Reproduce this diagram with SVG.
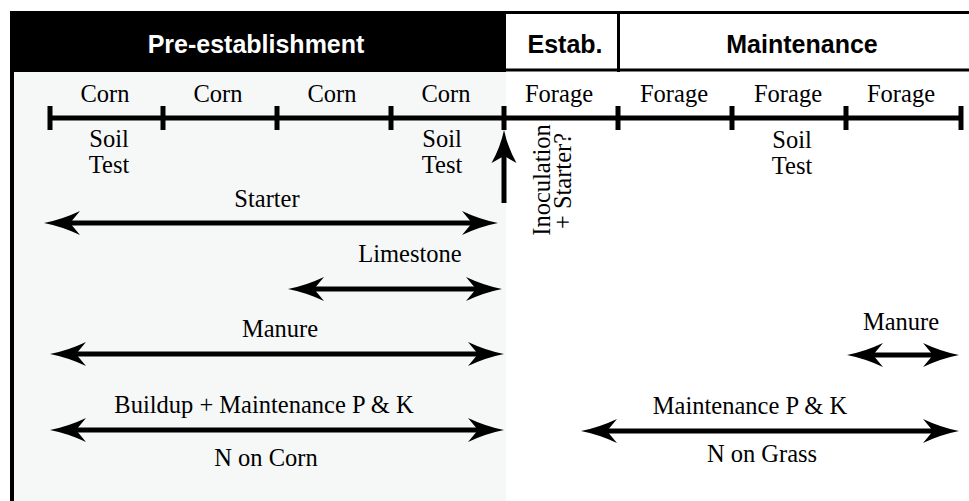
<svg xmlns="http://www.w3.org/2000/svg" width="969" height="501" viewBox="0 0 969 501">
<style>
.t{font-family:"Liberation Serif","Times New Roman",serif;font-size:24.5px;fill:#000;text-anchor:middle}
.h{font-family:"Liberation Sans",Arial,sans-serif;font-size:25px;font-weight:bold;text-anchor:middle}
.ln{stroke:#000;stroke-width:5;fill:none}
.ar{stroke:#000;stroke-width:5;fill:none;marker-start:url(#ah);marker-end:url(#ah)}
</style>
<defs>
<marker id="ah" markerUnits="userSpaceOnUse" viewBox="0 -12 36 24" refX="10" refY="0" markerWidth="36" markerHeight="24" orient="auto-start-reverse" overflow="visible">
<path d="M36,0 Q18,-3.5 0,-12 L10,0 L0,12 Q18,3.5 36,0 Z" fill="#000"/>
</marker>
<marker id="ahs" markerUnits="userSpaceOnUse" viewBox="0 -12 33 24" refX="7" refY="0" markerWidth="33" markerHeight="24" orient="auto" overflow="visible">
<path d="M33,0 Q16,-3.5 0,-12.5 L7,0 L0,12.5 Q16,3.5 33,0 Z" fill="#000"/>
</marker>
</defs>
<rect x="0" y="0" width="969" height="501" fill="#fff"/>
<g id="background">
<rect x="14" y="72" width="492" height="429" fill="#f6f8f8"/>
</g>
<g id="header-pre">
<rect x="10" y="11" width="496" height="61" fill="#000"/>
<text class="h" x="256" y="53" fill="#fff">Pre-establishment</text>
</g>
<g id="header-estab">
<text class="h" x="565" y="53" fill="#000">Estab.</text>
</g>
<g id="header-maint">
<text class="h" x="802" y="53" fill="#000">Maintenance</text>
</g>
<g id="frame">
<line x1="12" y1="11" x2="12" y2="501" stroke="#000" stroke-width="4"/>
<line x1="506" y1="12.5" x2="969" y2="12.5" stroke="#000" stroke-width="3"/>
<line x1="506" y1="70" x2="969" y2="70" stroke="#000" stroke-width="3"/>
<line x1="618.5" y1="11" x2="618.5" y2="72" stroke="#000" stroke-width="3"/>
</g>
<g id="timeline">
<line class="ln" x1="48" y1="118" x2="963" y2="118"/>
<g stroke="#000" stroke-width="5">
<line x1="50" y1="106" x2="50" y2="130"/>
<line x1="163" y1="106" x2="163" y2="130"/>
<line x1="277" y1="106" x2="277" y2="130"/>
<line x1="391" y1="106" x2="391" y2="130"/>
<line x1="504" y1="106" x2="504" y2="130"/>
<line x1="618" y1="106" x2="618" y2="130"/>
<line x1="732" y1="106" x2="732" y2="130"/>
<line x1="846" y1="106" x2="846" y2="130"/>
<line x1="961" y1="106" x2="961" y2="130"/>
</g>
<text class="t" x="105" y="102">Corn</text>
<text class="t" x="218" y="102">Corn</text>
<text class="t" x="332" y="102">Corn</text>
<text class="t" x="446" y="102">Corn</text>
<text class="t" x="559" y="102">Forage</text>
<text class="t" x="674" y="102">Forage</text>
<text class="t" x="788" y="102">Forage</text>
<text class="t" x="901" y="102">Forage</text>
</g>
<g id="soil-tests">
<text class="t" x="109" y="147">Soil</text>
<text class="t" x="109" y="173">Test</text>
<text class="t" x="442" y="147">Soil</text>
<text class="t" x="442" y="173">Test</text>
<text class="t" x="792" y="148">Soil</text>
<text class="t" x="792" y="174">Test</text>
</g>
<g id="inoculation">
<text class="t" transform="translate(550,180) rotate(-90)">Inoculation</text>
<text class="t" transform="translate(571,181) rotate(-90)">+ Starter?</text>
</g>
<g id="labels">
<text class="t" x="267" y="207">Starter</text>
<text class="t" x="410" y="262">Limestone</text>
<text class="t" x="280" y="337">Manure</text>
<text class="t" x="264" y="413">Buildup + Maintenance P &amp; K</text>
<text class="t" x="266" y="466">N on Corn</text>
<text class="t" x="901" y="330">Manure</text>
<text class="t" x="750" y="414">Maintenance P &amp; K</text>
<text class="t" x="762" y="462">N on Grass</text>
</g>
<g id="connectors">
<line x1="504" y1="203" x2="504" y2="156" stroke="#000" stroke-width="5" marker-end="url(#ahs)"/>
<line class="ar" x1="70" y1="223" x2="472" y2="223"/>
<line class="ar" x1="314" y1="289" x2="476" y2="289"/>
<line class="ar" x1="76" y1="354" x2="478" y2="354"/>
<line class="ar" x1="76" y1="430" x2="478" y2="430"/>
<line class="ar" x1="873" y1="355" x2="933" y2="355"/>
<line class="ar" x1="607" y1="431" x2="933" y2="431"/>
</g>
</svg>
